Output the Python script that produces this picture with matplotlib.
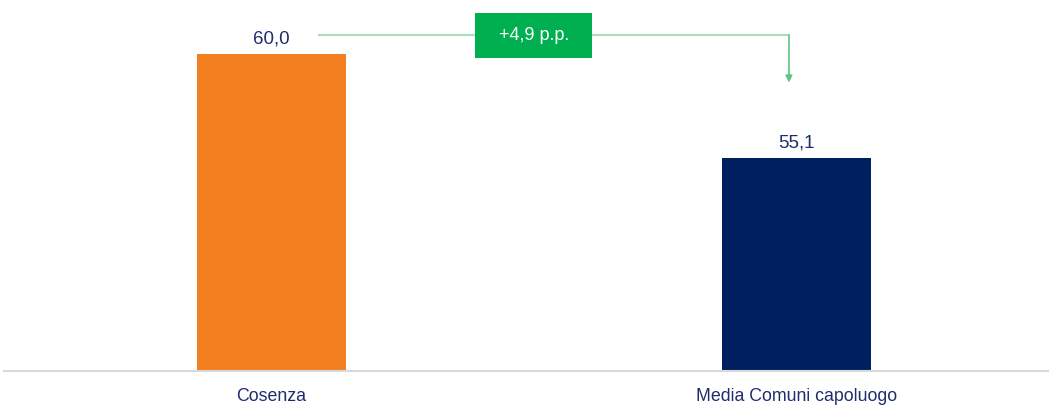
import matplotlib.pyplot as plt
from matplotlib.patches import Rectangle

categories = ['Cosenza', 'Media Comuni capoluogo']
values = [60.0, 55.1]
colors = ['#f47f20', '#001f5f']
diff_label = '+4,9 p.p.'

plt.rcParams['font.family'] = ['Liberation Sans', 'DejaVu Sans']
text_color = '#1f2d6b'

fig = plt.figure(figsize=(10.49, 4.08), dpi=100)
ax = fig.add_axes([0, (408 - 371) / 408, 1, 371 / 408])

x = [0, 1]
ax.bar(x, values, width=0.284, color=colors, zorder=2)
ax.set_xlim(-0.517, 1.481)
ax.set_ylim(45.06, 62.54)

# value labels
for xi, v in zip(x, values):
    ax.text(xi, v + 0.3, f"{v:.1f}".replace('.', ','), ha='center', va='bottom',
            fontsize=13.5, color=text_color)

# baseline
ax.axhline(45.06, xmin=4 / 1049, xmax=1, color='#d9d9d9', lw=1.5, clip_on=False)

# category labels
for xi, c in zip(x, categories):
    ax.text(xi, 45.06 - 0.8, c, ha='center', va='top', fontsize=12.8, color=text_color)

# connector with difference
y_line = 60.87
x_start = x[0] + 0.0905
x_end = x[1] - 0.0143
ax.plot([x_start, x_end], [y_line, y_line], color='#a8e0bb', lw=1.5, zorder=1)
ax.annotate('', xy=(x_end, 58.65), xytext=(x_end, y_line),
            arrowprops=dict(arrowstyle='-|>', color='#5cc684', lw=1.2,
                            mutation_scale=10, shrinkA=0, shrinkB=0))
xm = (x[0] + x[1]) / 2
bw, bh = 0.223, 2.12
ax.add_patch(Rectangle((xm - bw / 2, y_line - bh / 2), bw, bh, fc='#00b050', ec='none', zorder=3))
ax.text(xm, y_line, diff_label, ha='center', va='center',
        fontsize=13, color='white', zorder=4)

for s in ax.spines.values():
    s.set_visible(False)
ax.set_xticks([])
ax.set_yticks([])

fig.savefig('out.png', dpi=100)
